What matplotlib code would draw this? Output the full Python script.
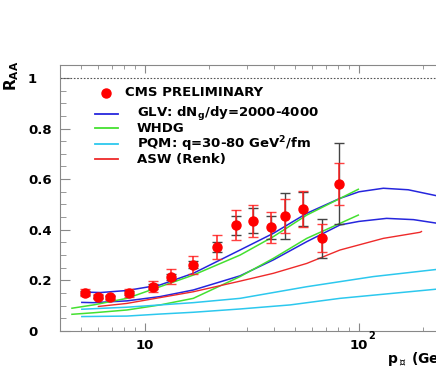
import matplotlib
matplotlib.use("Agg")
import matplotlib.pyplot as plt
from matplotlib.lines import Line2D
from matplotlib.ticker import FixedLocator, MultipleLocator, NullFormatter

W, H = 436, 371

# CMS data points: pT, R_AA, stat and syst errors
pt = [5.24, 6.05, 6.85, 8.45, 10.9, 13.2, 16.8, 21.6, 26.6, 32.1, 38.6, 45.1, 54.6, 67.5, 80.4]
raa = [0.151, 0.136, 0.133, 0.149, 0.175, 0.215, 0.262, 0.332, 0.418, 0.436, 0.409, 0.455, 0.482, 0.366, 0.581]
stat_err = [0.014, 0.010, 0.010, 0.016, 0.021, 0.028, 0.036, 0.048, 0.060, 0.063, 0.061, 0.067, 0.070, 0.055, 0.084]
syst_err = [0.008, 0.006, 0.006, 0.008, 0.010, 0.012, 0.015, 0.019, 0.037, 0.049, 0.045, 0.091, 0.068, 0.077, 0.160]

# model curves
glv_hi_x = [5.06, 6.2, 8.22, 11.75, 16.8, 27.8, 39.8, 57, 81.5, 100, 130, 170, 235]
glv_hi_y = [0.154, 0.152, 0.160, 0.182, 0.228, 0.320, 0.386, 0.465, 0.524, 0.550, 0.564, 0.558, 0.533]
glv_lo_x = [5.06, 5.73, 8.22, 11.75, 16.8, 27.8, 39.8, 57, 81.5, 100, 134.6, 180, 235]
glv_lo_y = [0.113, 0.112, 0.119, 0.136, 0.162, 0.218, 0.281, 0.353, 0.419, 0.433, 0.445, 0.440, 0.425]
whdg_hi_x = [4.55, 5.73, 8.22, 11.75, 16.8, 27.8, 39.8, 57, 99.3]
whdg_hi_y = [0.090, 0.103, 0.129, 0.175, 0.221, 0.300, 0.373, 0.458, 0.560]
whdg_lo_x = [4.55, 5.73, 8.22, 11.75, 16.8, 27.8, 39.8, 57, 99.3]
whdg_lo_y = [0.066, 0.072, 0.083, 0.103, 0.129, 0.215, 0.287, 0.366, 0.458]
pqm_hi_x = [5.06, 8.22, 11.75, 16.8, 27.8, 57, 116.7, 235]
pqm_hi_y = [0.086, 0.094, 0.103, 0.112, 0.129, 0.175, 0.215, 0.244]
pqm_lo_x = [5.06, 8.22, 11.75, 16.8, 27.8, 47.6, 81.5, 235]
pqm_lo_y = [0.057, 0.059, 0.067, 0.074, 0.087, 0.103, 0.129, 0.166]
asw_x = [6.05, 8.22, 11.75, 16.8, 27.8, 39.8, 57, 81.5, 130, 193, 196]
asw_y = [0.097, 0.109, 0.132, 0.155, 0.197, 0.228, 0.267, 0.320, 0.366, 0.390, 0.393]

C_BLUE = "#2626dd"
C_GREEN = "#44e030"
C_CYAN = "#2cc8ee"
C_RED = "#ee2a2a"

legend_labels = ["CMS PRELIMINARY",
                 r"GLV: dN$_{\mathbf{g}}$/dy=2000-4000",
                 "WHDG",
                 r"PQM: q=30-80 GeV$^{\mathbf{2}}$/fm",
                 "ASW (Renk)"]

plt.rcParams["font.family"] = ["DejaVu Sans"]
plt.rcParams["font.weight"] = "bold"
plt.rcParams["mathtext.default"] = "regular"


def fx(x):
    return x / W


def fy(y):
    return 1 - y / H


fig = plt.figure(figsize=(W / 100, H / 100), dpi=100)
# axes runs past the right edge of the picture, as in the reference
ax = fig.add_axes([fx(60), fy(331), (461 - 60) / W, (331 - 65) / H])
ax.set_xscale("log")
ax.set_xlim(4, 300)
ax.set_ylim(0, 1.051)

for s in ax.spines.values():
    s.set_color("#888888")
    s.set_linewidth(0.8)

ax.axhline(1.0, color="#555555", lw=0.8, ls=(0, (1.5, 1.5)))

ax.plot(glv_hi_x, glv_hi_y, color=C_BLUE, lw=1.1)
ax.plot(glv_lo_x, glv_lo_y, color=C_BLUE, lw=1.1)
ax.plot(whdg_hi_x, whdg_hi_y, color=C_GREEN, lw=1.1)
ax.plot(whdg_lo_x, whdg_lo_y, color=C_GREEN, lw=1.1)
ax.plot(pqm_hi_x, pqm_hi_y, color=C_CYAN, lw=1.1)
ax.plot(pqm_lo_x, pqm_lo_y, color=C_CYAN, lw=1.1)
ax.plot(asw_x, asw_y, color=C_RED, lw=1.0)

ax.errorbar(pt, raa, yerr=syst_err, fmt="none", ecolor="#444444", elinewidth=1.0,
            capsize=3.5, capthick=1.0)
ax.errorbar(pt, raa, yerr=stat_err, fmt="none", ecolor="#ff2020", elinewidth=1.3,
            capsize=3.5, capthick=1.0, alpha=0.85)
ax.plot(pt, raa, "o", color="#ff0000", ms=6.5, mec="#ff0000")

# ticks
ax.xaxis.set_major_locator(FixedLocator([10, 100]))
ax.xaxis.set_minor_locator(FixedLocator([5, 6, 7, 8, 9, 20, 30, 40, 50, 60, 70, 80, 90, 200, 300]))
ax.xaxis.set_minor_formatter(NullFormatter())
ax.set_xticklabels(["10", "10"])
ax.yaxis.set_major_locator(FixedLocator([0, 0.2, 0.4, 0.6, 0.8, 1.0]))
ax.yaxis.set_minor_locator(MultipleLocator(0.05))
ax.set_yticklabels(["0", "0.2", "0.4", "0.6", "0.8", "1"])
ax.tick_params(which="both", direction="in", color="#888888", top=True, right=False)
ax.tick_params(axis="x", which="major", length=6, pad=6, labelsize=9.5)
ax.tick_params(axis="x", which="minor", length=3)
ax.tick_params(axis="y", which="major", length=7, pad=23, labelsize=9.5)
ax.tick_params(axis="y", which="minor", length=4)
for lab in ax.get_yticklabels():
    lab.set_horizontalalignment("left")

fig.text(fx(368), fy(341), "2", fontsize=7, fontweight="bold", ha="left", va="bottom")
fig.text(fx(387), fy(359), r"p$_{\perp}$ (GeV/c)", fontsize=10, fontweight="bold",
         ha="left", va="center")
fig.text(fx(12), fy(76), r"R$_{\mathbf{AA}}$", fontsize=11, fontweight="bold",
         rotation=90, ha="center", va="center")

# legend
fig.add_artist(Line2D([fx(106)], [fy(93)], marker="o", color="#ff0000", ms=6.5,
                      transform=fig.transFigure))
fig.text(fx(125), fy(93), legend_labels[0], fontsize=9.5, fontweight="bold", va="center")
leg_y = [114, 128, 144, 159]
leg_c = [C_BLUE, C_GREEN, C_CYAN, C_RED]
for yy, cc, lab in zip(leg_y, leg_c, legend_labels[1:]):
    fig.add_artist(Line2D([fx(95), fx(118)], [fy(yy), fy(yy)], color=cc, lw=1.3,
                          transform=fig.transFigure))
    fig.text(fx(137), fy(yy), lab, fontsize=9.5, fontweight="bold", va="center")

fig.savefig("out.png", dpi=100)
